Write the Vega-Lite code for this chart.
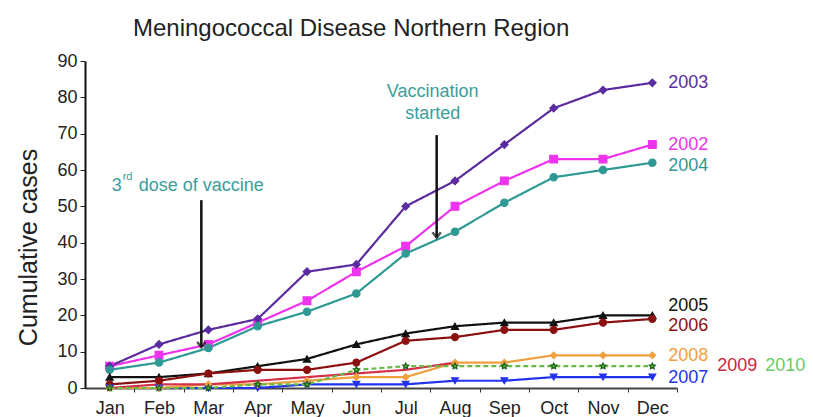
{
  "$schema": "https://vega.github.io/schema/vega-lite/v6.json",
  "autosize": {"type": "none"},
  "padding": {"left": 85, "top": 61, "right": 136, "bottom": 29},
  "width": 592,
  "height": 327,
  "background": "white",
  "config": {"view": {"stroke": null}, "font": "Liberation Sans"},
  "title": {"text": "Meningococcal Disease Northern Region", "fontSize": 24, "fontWeight": "normal", "color": "#222222", "anchor": "start", "frame": "group", "dx": 48, "offset": 11, "font": "Liberation Sans"},
  "datasets": {
    "series": [
      {"year": "2002", "month": "Jan", "cases": 6}, {"year": "2002", "month": "Feb", "cases": 9}, {"year": "2002", "month": "Mar", "cases": 12}, {"year": "2002", "month": "Apr", "cases": 18}, {"year": "2002", "month": "May", "cases": 24}, {"year": "2002", "month": "Jun", "cases": 32}, {"year": "2002", "month": "Jul", "cases": 39}, {"year": "2002", "month": "Aug", "cases": 50}, {"year": "2002", "month": "Sep", "cases": 57}, {"year": "2002", "month": "Oct", "cases": 63}, {"year": "2002", "month": "Nov", "cases": 63}, {"year": "2002", "month": "Dec", "cases": 67},
      {"year": "2003", "month": "Jan", "cases": 6}, {"year": "2003", "month": "Feb", "cases": 12}, {"year": "2003", "month": "Mar", "cases": 16}, {"year": "2003", "month": "Apr", "cases": 19}, {"year": "2003", "month": "May", "cases": 32}, {"year": "2003", "month": "Jun", "cases": 34}, {"year": "2003", "month": "Jul", "cases": 50}, {"year": "2003", "month": "Aug", "cases": 57}, {"year": "2003", "month": "Sep", "cases": 67}, {"year": "2003", "month": "Oct", "cases": 77}, {"year": "2003", "month": "Nov", "cases": 82}, {"year": "2003", "month": "Dec", "cases": 84},
      {"year": "2004", "month": "Jan", "cases": 5}, {"year": "2004", "month": "Feb", "cases": 7}, {"year": "2004", "month": "Mar", "cases": 11}, {"year": "2004", "month": "Apr", "cases": 17}, {"year": "2004", "month": "May", "cases": 21}, {"year": "2004", "month": "Jun", "cases": 26}, {"year": "2004", "month": "Jul", "cases": 37}, {"year": "2004", "month": "Aug", "cases": 43}, {"year": "2004", "month": "Sep", "cases": 51}, {"year": "2004", "month": "Oct", "cases": 58}, {"year": "2004", "month": "Nov", "cases": 60}, {"year": "2004", "month": "Dec", "cases": 62},
      {"year": "2005", "month": "Jan", "cases": 3}, {"year": "2005", "month": "Feb", "cases": 3}, {"year": "2005", "month": "Mar", "cases": 4}, {"year": "2005", "month": "Apr", "cases": 6}, {"year": "2005", "month": "May", "cases": 8}, {"year": "2005", "month": "Jun", "cases": 12}, {"year": "2005", "month": "Jul", "cases": 15}, {"year": "2005", "month": "Aug", "cases": 17}, {"year": "2005", "month": "Sep", "cases": 18}, {"year": "2005", "month": "Oct", "cases": 18}, {"year": "2005", "month": "Nov", "cases": 20}, {"year": "2005", "month": "Dec", "cases": 20},
      {"year": "2006", "month": "Jan", "cases": 1}, {"year": "2006", "month": "Feb", "cases": 2}, {"year": "2006", "month": "Mar", "cases": 4}, {"year": "2006", "month": "Apr", "cases": 5}, {"year": "2006", "month": "May", "cases": 5}, {"year": "2006", "month": "Jun", "cases": 7}, {"year": "2006", "month": "Jul", "cases": 13}, {"year": "2006", "month": "Aug", "cases": 14}, {"year": "2006", "month": "Sep", "cases": 16}, {"year": "2006", "month": "Oct", "cases": 16}, {"year": "2006", "month": "Nov", "cases": 18}, {"year": "2006", "month": "Dec", "cases": 19},
      {"year": "2007", "month": "Jan", "cases": 0}, {"year": "2007", "month": "Feb", "cases": 0}, {"year": "2007", "month": "Mar", "cases": 0}, {"year": "2007", "month": "Apr", "cases": 0}, {"year": "2007", "month": "May", "cases": 1}, {"year": "2007", "month": "Jun", "cases": 1}, {"year": "2007", "month": "Jul", "cases": 1}, {"year": "2007", "month": "Aug", "cases": 2}, {"year": "2007", "month": "Sep", "cases": 2}, {"year": "2007", "month": "Oct", "cases": 3}, {"year": "2007", "month": "Nov", "cases": 3}, {"year": "2007", "month": "Dec", "cases": 3},
      {"year": "2008", "month": "Jan", "cases": 0}, {"year": "2008", "month": "Feb", "cases": 0}, {"year": "2008", "month": "Mar", "cases": 1}, {"year": "2008", "month": "Apr", "cases": 1}, {"year": "2008", "month": "May", "cases": 2}, {"year": "2008", "month": "Jun", "cases": 3}, {"year": "2008", "month": "Jul", "cases": 3}, {"year": "2008", "month": "Aug", "cases": 7}, {"year": "2008", "month": "Sep", "cases": 7}, {"year": "2008", "month": "Oct", "cases": 9}, {"year": "2008", "month": "Nov", "cases": 9}, {"year": "2008", "month": "Dec", "cases": 9},
      {"year": "2009", "month": "Jan", "cases": 0}, {"year": "2009", "month": "Feb", "cases": 1}, {"year": "2009", "month": "Mar", "cases": 1}, {"year": "2009", "month": "Apr", "cases": 2}, {"year": "2009", "month": "May", "cases": 3}, {"year": "2009", "month": "Jun", "cases": 4}, {"year": "2009", "month": "Jul", "cases": 5}, {"year": "2009", "month": "Aug", "cases": 7},
      {"year": "2010", "month": "Jan", "cases": 0}, {"year": "2010", "month": "Feb", "cases": 0}, {"year": "2010", "month": "Mar", "cases": 0}, {"year": "2010", "month": "Apr", "cases": 1}, {"year": "2010", "month": "May", "cases": 1}, {"year": "2010", "month": "Jun", "cases": 5}, {"year": "2010", "month": "Jul", "cases": 6}, {"year": "2010", "month": "Aug", "cases": 6}, {"year": "2010", "month": "Sep", "cases": 6}, {"year": "2010", "month": "Oct", "cases": 6}, {"year": "2010", "month": "Nov", "cases": 6}, {"year": "2010", "month": "Dec", "cases": 6}
    ],
    "labels": [
      {"label": "2003", "month": "Dec", "cases": 84, "col": 1},
      {"label": "2002", "month": "Dec", "cases": 67, "col": 1},
      {"label": "2004", "month": "Dec", "cases": 61, "col": 1},
      {"label": "2005", "month": "Dec", "cases": 22.7, "col": 1},
      {"label": "2006", "month": "Dec", "cases": 17.1, "col": 1},
      {"label": "2008", "month": "Dec", "cases": 8.8, "col": 1},
      {"label": "2007", "month": "Dec", "cases": 2.8, "col": 1},
      {"label": "2009", "month": "Dec", "cases": 6.1, "col": 2},
      {"label": "2010", "month": "Dec", "cases": 6.1, "col": 3}
    ],
    "arrows": [
      {"name": "dose", "month": "Mar", "top": 51.7, "tip": 11.2},
      {"name": "start", "month": "Jul", "top": 69.6, "tip": 41.4}
    ],
    "notes": [
      {"name": "three", "month": "Jan", "cases": 55.5, "text": "3"},
      {"name": "rd", "month": "Jan", "cases": 56.8, "text": "rd"},
      {"name": "dose", "month": "Jan", "cases": 55.5, "text": "dose of vaccine"},
      {"name": "vacc", "month": "Jul", "cases": 81.5, "text": "Vaccination"},
      {"name": "vacc", "month": "Jul", "cases": 75.4, "text": "started"}
    ]
  },
  "encoding": {
    "x": {"field": "month", "type": "ordinal", "sort": ["Jan","Feb","Mar","Apr","May","Jun","Jul","Aug","Sep","Oct","Nov","Dec"],
      "scale": {"type": "point", "padding": 0.5, "domain": ["Jan","Feb","Mar","Apr","May","Jun","Jul","Aug","Sep","Oct","Nov","Dec"]},
      "axis": {"title": null, "labelAngle": 0, "labelFontSize": 18, "labelColor": "#222222", "tickOffset": 24.67, "labelOffset": -24.67, "tickSize": 4, "tickColor": "#333333", "domainColor": "#444444", "domainWidth": 2, "labelPadding": 7, "grid": false}},
    "y": {"field": "cases", "type": "quantitative", "scale": {"domain": [0, 90], "nice": false},
      "axis": {"title": "Cumulative  cases", "titleFontSize": 25, "titleFontWeight": "normal", "titleColor": "#222222", "titlePadding": 15, "titleY": 186, "values": [0,10,20,30,40,50,60,70,80,90], "labelFontSize": 18, "labelColor": "#222222", "tickSize": 5, "tickColor": "#222222", "domainColor": "#111111", "domainWidth": 2, "labelPadding": 3, "grid": false}}
  },
  "layer": [
    {
      "data": {"name": "series"},
      "mark": {"type": "line", "strokeWidth": 2.2},
      "encoding": {
        "color": {"field": "year", "type": "nominal", "legend": null,
          "scale": {"domain": ["2002","2003","2004","2005","2006","2007","2008","2009","2010"],
                    "range": ["#ee33ee","#5b2c9f","#2f9a94","#111111","#8b1010","#2233ee","#f0a040","#d43048","#66bb44"]}},
        "strokeDash": {"field": "year", "type": "nominal", "legend": null,
          "scale": {"domain": ["2002","2003","2004","2005","2006","2007","2008","2009","2010"],
                    "range": [[1,0],[1,0],[1,0],[1,0],[1,0],[1,0],[1,0],[1,0],[5,3]]}},
        "order": {"field": "year", "sort": "descending"}
      }
    },
    {
      "data": {"name": "series"},
      "transform": [{"filter": "datum.year != '2009'"}],
      "mark": {"type": "point", "filled": true, "strokeWidth": 1.2, "opacity": 1},
      "encoding": {
        "shape": {"field": "year", "type": "nominal", "legend": null,
          "scale": {"domain": ["2002","2003","2004","2005","2006","2007","2008","2010"],
                    "range": ["square","diamond","circle","triangle-up","circle","triangle-down","diamond","M0,-1L0.29,-0.4L0.95,-0.31L0.48,0.15L0.59,0.81L0,0.5L-0.59,0.81L-0.48,0.15L-0.95,-0.31L-0.29,-0.4Z"]}},
        "fill": {"field": "year", "type": "nominal", "legend": null,
          "scale": {"domain": ["2002","2003","2004","2005","2006","2007","2008","2010"],
                    "range": ["#ee33ee","#5b2c9f","#2f9a94","#111111","#8b1010","#2233ee","#f0a040","#55bb33"]}},
        "stroke": {"field": "year", "type": "nominal", "legend": null,
          "scale": {"domain": ["2002","2003","2004","2005","2006","2007","2008","2010"],
                    "range": ["#ee33ee","#5b2c9f","#2f9a94","#111111","#8b1010","#2233ee","#f0a040","#1a5a1a"]}},
        "size": {"field": "year", "type": "nominal", "legend": null,
          "scale": {"domain": ["2002","2003","2004","2005","2006","2007","2008","2010"],
                    "range": [60, 40, 35, 55, 100, 60, 40, 110]}}
      }
    },
    {
      "data": {"name": "arrows"},
      "transform": [{"filter": "datum.name == 'dose'"}],
      "mark": {"type": "rule", "strokeWidth": 2.5, "color": "#111111", "xOffset": -7},
      "encoding": {"y": {"field": "top", "type": "quantitative"}, "y2": {"field": "tip"}}
    },
    {
      "data": {"name": "arrows"},
      "transform": [{"filter": "datum.name == 'start'"}],
      "mark": {"type": "rule", "strokeWidth": 2.5, "color": "#111111", "xOffset": 31},
      "encoding": {"y": {"field": "top", "type": "quantitative"}, "y2": {"field": "tip"}}
    },
    {
      "data": {"name": "arrows"},
      "transform": [{"filter": "datum.name == 'dose'"}],
      "mark": {"type": "point", "shape": "M-1,-1.3L0,0L1,-1.3", "filled": false, "stroke": "#111111", "strokeWidth": 2.5, "size": 70, "xOffset": -7},
      "encoding": {"y": {"field": "tip", "type": "quantitative"}}
    },
    {
      "data": {"name": "arrows"},
      "transform": [{"filter": "datum.name == 'start'"}],
      "mark": {"type": "point", "shape": "M-1,-1.3L0,0L1,-1.3", "filled": false, "stroke": "#111111", "strokeWidth": 2.5, "size": 70, "xOffset": 31},
      "encoding": {"y": {"field": "tip", "type": "quantitative"}}
    },
    {
      "data": {"name": "notes"},
      "transform": [{"filter": "datum.name == 'three'"}],
      "mark": {"type": "text", "align": "left", "baseline": "middle", "fontSize": 18, "color": "#3a9e9a", "dx": 2},
      "encoding": {"text": {"field": "text"}}
    },
    {
      "data": {"name": "notes"},
      "transform": [{"filter": "datum.name == 'rd'"}],
      "mark": {"type": "text", "align": "left", "baseline": "middle", "fontSize": 11, "color": "#3a9e9a", "dx": 13, "dy": -5},
      "encoding": {"text": {"field": "text"}}
    },
    {
      "data": {"name": "notes"},
      "transform": [{"filter": "datum.name == 'dose'"}],
      "mark": {"type": "text", "align": "left", "baseline": "middle", "fontSize": 18, "color": "#3a9e9a", "dx": 29},
      "encoding": {"text": {"field": "text"}}
    },
    {
      "data": {"name": "notes"},
      "transform": [{"filter": "datum.name == 'vacc'"}],
      "mark": {"type": "text", "align": "center", "baseline": "middle", "fontSize": 18, "color": "#3a9e9a", "dx": 27},
      "encoding": {"text": {"field": "text"}}
    },
    {
      "data": {"name": "labels"},
      "transform": [{"filter": "datum.col == 1"}],
      "mark": {"type": "text", "align": "left", "baseline": "middle", "fontSize": 18, "dx": 16},
      "encoding": {
        "text": {"field": "label"},
        "color": {"field": "label", "type": "nominal", "legend": null,
          "scale": {"domain": ["2003","2002","2004","2005","2006","2008","2007","2009","2010"],
                    "range": ["#4a3780","#dd44dd","#3a9a94","#222222","#7a2a2a","#e8a040","#3a3aa0","#c8283c","#66cc66"]}}
      }
    },
    {
      "data": {"name": "labels"},
      "transform": [{"filter": "datum.col == 2"}],
      "mark": {"type": "text", "align": "left", "baseline": "middle", "fontSize": 18, "dx": 65, "color": "#c8283c"},
      "encoding": {"text": {"field": "label"}}
    },
    {
      "data": {"name": "labels"},
      "transform": [{"filter": "datum.col == 3"}],
      "mark": {"type": "text", "align": "left", "baseline": "middle", "fontSize": 18, "dx": 113, "color": "#66cc66"},
      "encoding": {"text": {"field": "label"}}
    }
  ]
}
